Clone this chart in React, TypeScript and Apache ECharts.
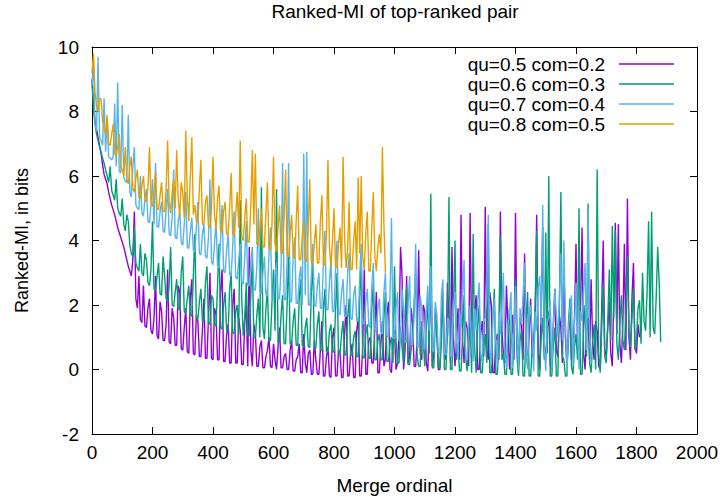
import React, { useEffect, useRef } from "react";
import * as echarts from "echarts";

// x step (merge ordinal) between consecutive samples
const STEP = 5;

const seriesNames = [
  "qu=0.5 com=0.2",
  "qu=0.6 com=0.3",
  "qu=0.7 com=0.4",
  "qu=0.8 com=0.5",
];
const seriesColors = ["#9400d3", "#009e73", "#56b4e9", "#e69f00"];

const xTicks = [0, 200, 400, 600, 800, 1000, 1200, 1400, 1600, 1800, 2000];
const yTicks = [-2, 0, 2, 4, 6, 8, 10];

// qu=0.5 com=0.2 (x = 0..1810)
const purpleY = [
  9.0, 8.2, 7.7, 7.45, 7.2, 6.95, 6.7, 6.35, 6.05, 5.9,
  5.75, 5.5, 5.3, 5.1, 4.95, 4.8, 4.6, 4.4, 4.25, 4.1,
  3.95, 3.8, 3.6, 3.4, 3.2, 3.05, 2.9, 3.4, 4.9, 2.2,
  1.9, 2.9, 1.55, 1.45, 2.6, 1.35, 1.3, 1.9, 2.2, 1.2,
  1.1, 1.6, 2.9, 1.05, 0.95, 2.1, 1.8, 0.9, 0.9, 1.4,
  3.1, 0.85, 0.8, 1.9, 1.6, 0.75, 0.75, 2.6, 2.4, 0.65,
  0.6, 1.3, 1.9, 0.55, 0.5, 2.2, 2.8, 0.5, 0.45, 1.7,
  1.5, 0.4, 0.4, 1.2, 2.2, 0.35, 0.35, 1.6, 3.0, 0.35,
  0.3, 1.9, 1.7, 0.3, 0.3, 2.4, 3.1, 0.25, 0.25, 1.1,
  1.4, 0.2, 0.2, 2.0, 2.5, 0.2, 0.2, 1.6, 1.2, 0.15,
  0.15, 1.5, 2.0, 0.1, 3.8, 0.6, 0.1, 1.4, 1.1, 0.1,
  0.1, 0.7, 0.9, 0.05, 0.05, 0.4, 0.6, 1.0, 0.1, 0.05,
  0.8, 0.3, 0.0, 0.7, 1.3, 0.05, 0.05, 0.4, 0.5, 0.0,
  0.0, 0.6, 0.9, -0.05, -0.05, 0.3, 0.4, 0.8, -0.1, -0.1,
  1.1, 0.2, -0.1, 0.5, 0.6, -0.15, -0.15, 0.9, 0.3, -0.15,
  -0.15, 0.6, 1.5, -0.2, -0.2, 0.4, 0.7, -0.2, -0.25, 1.0,
  1.3, -0.2, -0.2, 0.6, 0.5, -0.25, -0.25, 1.1, 2.0, -0.2,
  -0.2, 0.5, 0.8, -0.25, -0.25, 1.2, 1.6, -0.2, -0.2, 0.7,
  3.1, -0.15, -0.15, 0.9, 1.0, 0.2, 0.2, 1.3, 2.4, -0.1,
  -0.1, 0.8, 1.5, 0.1, 0.3, 1.7, 2.1, 0.0, -0.1, 0.9,
  1.2, 0.0, 0.2, 1.1, 3.8, 2.9, 0.0, 0.6, 2.9, 0.2,
  0.4, 1.9, 1.4, 0.1, 0.1, 1.0, 3.7, 0.5, 0.3, 2.0,
  1.8, 0.2, -0.05, 1.3, 2.6, 0.1, 0.5, 1.9, 1.2, 0.0,
  0.0, 1.4, 2.2, 0.6, 0.3, 2.7, 1.6, 0.2, 3.8, 1.0,
  0.1, 0.8, 1.9, 0.3, 4.8, 0.9, 0.2, 1.5, 1.3, 0.1,
  4.85, 0.7, 0.4, 1.8, 2.3, 0.0, 0.0, 1.1, 1.5, 0.4,
  5.05, 0.6, 0.3, 2.4, 2.0, -0.1, -0.1, 0.9, 1.1, 0.3,
  4.9, 1.2, 0.5, 0.2, 2.6, 1.4, 0.0, 0.8, 1.7, 0.3,
  4.85, 0.9, 0.2, 1.6, 1.4, 0.3, 3.6, 0.7, 0.1, 1.1,
  2.2, 0.4, 0.6, 1.5, 4.8, 0.5, 0.0, 1.9, 4.4, 0.8,
  0.3, 1.2, 1.8, 0.1, 0.0, 1.4, 2.5, 0.6, 0.4, 1.7,
  1.3, 0.2, 3.2, 1.0, 0.1, 0.9, 2.0, 0.3, 0.5, 1.6,
  3.9, 0.7, 0.2, 1.8, 4.4, 0.5, 0.0, 1.2, 1.6, 0.3,
  2.8, 0.9, 0.3, 1.5, 1.2, 0.1, 0.0, 1.9, 4.0, 0.6,
  0.4, 1.3, 2.1, 0.5, 0.1, 2.4, 4.55, 1.1, 4.5, 0.8,
  0.2, 1.5, 3.9, 0.6, 5.3, 1.0, 0.3, 2.2, 3.3, 0.7,
  0.5, 1.4, 1.0,
];

// qu=0.6 com=0.3 (x = 0..1880)
const greenY = [
  8.9, 8.1, 7.6, 7.3, 7.1, 6.9, 6.75, 6.55, 6.4, 6.2,
  6.0, 5.8, 6.3, 5.55, 5.4, 5.25, 5.9, 5.0, 4.85, 4.75,
  5.3, 4.5, 4.3, 4.8, 4.6, 3.85, 3.6, 3.5, 4.4, 3.3,
  3.15, 3.05, 3.9, 3.0, 2.9, 3.6, 3.4, 2.7, 2.6, 3.1,
  4.6, 2.5, 2.45, 2.9, 3.3, 2.35, 2.3, 3.5, 2.9, 2.2,
  2.1, 2.6, 3.8, 2.0, 1.95, 2.4, 2.8, 1.9, 1.85, 3.0,
  3.5, 1.8, 1.75, 2.2, 2.6, 1.7, 1.65, 2.9, 4.2, 1.6,
  1.55, 2.1, 2.5, 1.5, 1.5, 2.7, 3.2, 1.45, 1.4, 2.3,
  2.2, 1.4, 1.35, 2.6, 3.9, 1.3, 1.25, 2.0, 2.4, 1.2,
  1.2, 2.5, 3.0, 1.15, 1.1, 1.8, 2.0, 1.1, 5.25, 2.2,
  1.05, 1.6, 2.7, 1.05, 1.05, 2.3, 3.4, 1.0, 1.0, 1.7,
  2.2, 1.0, 5.65, 1.3, 0.95, 1.9, 2.5, 0.9, 0.9, 2.1,
  3.1, 1.2, 5.6, 0.85, 0.85, 1.7, 2.3, 0.8, 0.8, 2.0,
  3.6, 0.8, 0.8, 1.5, 1.9, 0.75, 0.75, 2.2, 2.8, 0.75,
  0.7, 1.3, 1.6, 0.7, 0.7, 2.4, 3.3, 0.65, 0.65, 1.4,
  1.8, 0.6, 0.6, 1.9, 2.5, 0.55, 0.55, 1.2, 1.4, 0.55,
  0.55, 1.8, 3.0, 0.5, 0.5, 1.1, 1.5, 0.45, 0.45, 1.6,
  2.2, 0.45, 0.45, 1.0, 1.2, 0.4, 0.4, 2.1, 3.4, 0.4,
  0.35, 1.1, 1.4, 0.35, 0.35, 1.9, 2.7, 0.3, 0.3, 0.9,
  1.1, 0.3, 0.3, 1.6, 2.4, 0.25, 0.25, 0.8, 1.0, 0.2,
  3.2, 0.9, 0.2, 0.2, 1.3, 0.7, 0.2, 1.8, 2.6, 0.15,
  0.15, 0.6, 1.0, 2.1, 3.0, 0.4, 0.1, 0.1, 1.5, 0.9,
  0.1, 1.3, 2.1, 0.5, 5.45, 0.05, 0.05, 1.6, 1.2, 0.05,
  0.05, 0.8, 2.4, 0.0, 0.0, 1.1, 5.35, 0.0, 0.0, 1.7,
  4.0, 0.3, 0.8, -0.05, -0.05, 1.0, 2.3, 0.4, -0.05, 0.9,
  1.4, -0.1, 4.2, 0.6, -0.1, 1.3, 2.0, -0.1, -0.1, 0.7,
  1.1, 0.2, 4.5, -0.1, -0.1, 1.6, 2.5, -0.15, -0.15, 0.8,
  4.15, 0.3, 0.5, -0.15, -0.15, 1.2, 1.9, -0.15, -0.15, 1.0,
  2.8, 0.4, -0.2, 0.9, 1.2, -0.2, -0.2, 1.5, 2.4, -0.2,
  -0.2, 0.6, 0.9, 2.0, 4.3, -0.2, -0.2, 1.0, 1.6, 0.3,
  4.25, 0.5, 6.0, -0.2, -0.2, 0.8, 1.3, -0.2, -0.2, 1.9,
  5.5, 0.4, 0.3, -0.2, -0.2, 1.4, 2.2, 0.1, -0.15, 0.7,
  1.1, 0.3, 5.0, -0.15, -0.15, 1.2, 2.0, 0.4, 5.15, 0.2,
  -0.1, 0.9, 1.4, 0.0, 6.2, 0.5, -0.1, 1.3, 2.6, 0.4,
  0.2, 1.5, 3.1, 0.9, 4.45, 1.6, 4.3, 0.8, 0.3, 1.4,
  2.3, 0.9, 0.6, 1.8, 3.5, 1.2, 0.7, 1.6, 2.5, 0.6,
  0.9, 1.9, 2.15, 0.8, 3.0, 1.5, 1.2, 2.4, 4.6, 1.0,
  4.9, 1.3, 1.1, 2.2, 3.8, 2.7, 0.85,
];

// qu=0.7 com=0.4 (x = 0..1650)
const blueY = [
  8.8, 9.5, 7.6, 7.4, 9.7, 7.2, 7.1, 6.95, 8.4, 6.75,
  7.8, 6.6, 6.55, 6.5, 6.6, 8.25, 6.3, 8.9, 6.15, 6.1,
  8.2, 5.95, 5.85, 5.8, 7.9, 5.5, 5.35, 6.3, 6.9, 5.1,
  5.0, 4.95, 6.0, 4.85, 4.75, 5.3, 5.6, 4.6, 4.55, 5.1,
  5.9, 4.5, 6.4, 4.45, 4.4, 4.9, 5.2, 4.3, 4.25, 5.0,
  5.6, 4.2, 4.15, 4.7, 6.2, 4.1, 4.05, 4.6, 4.9, 3.95,
  3.85, 4.5, 5.5, 3.8, 3.75, 4.3, 4.7, 3.7, 3.65, 4.4,
  5.2, 3.6, 3.55, 4.2, 4.5, 3.5, 3.45, 4.1, 5.9, 3.35,
  3.25, 3.9, 4.6, 3.2, 3.15, 4.0, 5.1, 3.05, 3.0, 3.7,
  4.2, 2.95, 2.9, 3.8, 4.9, 2.85, 2.8, 3.4, 3.9, 2.7,
  2.65, 3.5, 4.6, 2.6, 2.6, 3.3, 3.8, 2.5, 2.45, 3.2,
  5.0, 2.4, 2.35, 3.0, 3.5, 2.3, 2.3, 3.6, 4.4, 2.25,
  2.25, 2.9, 3.3, 2.2, 2.2, 3.1, 6.4, 2.2, 2.15, 3.4,
  6.4, 2.1, 2.1, 3.5, 4.1, 2.05, 2.05, 2.8, 3.2, 2.0,
  6.7, 2.3, 6.75, 2.0, 2.0, 2.9, 3.9, 2.0, 1.95, 2.6,
  3.0, 1.9, 1.9, 3.3, 4.3, 1.85, 1.85, 2.7, 3.4, 1.8,
  1.8, 3.1, 4.0, 1.75, 1.7, 2.4, 2.8, 1.65, 1.65, 3.0,
  3.6, 1.6, 1.55, 2.3, 2.6, 1.5, 1.5, 2.9, 3.9, 1.45,
  1.4, 2.1, 2.5, 1.35, 1.3, 2.6, 3.3, 1.25, 1.2, 1.9,
  2.2, 1.15, 1.1, 2.4, 3.0, 1.05, 1.0, 2.2, 4.7, 1.0,
  0.95, 1.9, 2.4, 0.9, 0.9, 2.5, 1.8, 0.85, 0.85, 2.0,
  2.9, 0.8, 0.75, 1.7, 3.9, 0.7, 0.7, 2.3, 1.9, 0.65,
  0.65, 1.8, 2.6, 1.2, 3.2, 0.6, 0.55, 2.1, 1.7, 0.5,
  0.5, 2.3, 2.8, 0.5, 0.45, 1.6, 1.5, 0.4, 0.4, 2.0,
  2.4, 0.9, 0.35, 1.8, 1.3, 2.2, 3.4, 0.3, 0.3, 1.4,
  2.0, 0.8, 0.25, 1.9, 1.2, 2.1, 2.7, 0.5, 0.2, 1.5,
  1.6, 2.3, 4.8, 0.6, 0.15, 1.7, 2.2, 0.9, 0.1, 1.8,
  1.1, 2.0, 3.0, 0.4, 0.05, 1.4, 1.8, 2.4, 0.05, 1.2,
  2.6, 1.0, 0.0, 1.9, 1.4, 2.3, 3.3, 0.6, 0.0, 1.6,
  2.0, 1.1, -0.05, 1.8, 1.2, 2.5, 2.9, 1.4, 5.1, 0.8,
  -0.05, 1.5, 1.6, 2.1, 0.0, 1.3, 2.5, 1.7, 1.0, 2.2,
  3.6, 0.9, 4.0, 1.5, -0.05, 1.2, 1.9, 2.3, 0.1, 1.4,
  2.7, 1.1, 0.0, 1.8, 1.5, 2.4, 3.3, 0.6, 4.95, 1.0,
  0.2,
];

// qu=0.8 com=0.5 (x = 0..970)
const orangeY = [
  9.2, 9.8, 8.6, 8.2, 8.0, 8.4, 8.4, 7.7, 7.5, 7.3,
  7.9, 7.0, 6.95, 7.3, 7.6, 6.7, 6.6, 6.9, 7.3, 6.3,
  6.2, 6.0, 6.9, 5.9, 5.75, 6.3, 6.6, 5.6, 5.5, 5.9,
  6.2, 5.35, 5.3, 5.7, 6.0, 5.25, 5.2, 5.6, 6.9, 5.2,
  5.05, 5.5, 6.1, 5.0, 4.95, 5.4, 5.8, 4.9, 4.9, 5.6,
  7.1, 5.2, 4.85, 5.5, 5.9, 5.0, 6.8, 5.3, 4.75, 5.8,
  5.5, 4.7, 7.4, 5.4, 4.6, 6.0, 7.2, 4.8, 5.1, 4.6,
  4.55, 5.6, 6.5, 4.5, 4.5, 5.2, 5.4, 4.45, 4.4, 5.0,
  6.6, 4.8, 4.35, 5.3, 5.7, 4.3, 4.25, 4.9, 5.2, 4.2,
  4.2, 5.0, 6.1, 4.2, 4.15, 4.8, 5.5, 4.4, 7.1, 4.1,
  4.0, 4.7, 5.3, 3.95, 3.95, 5.1, 6.8, 4.5, 6.7, 3.9,
  3.85, 4.4, 5.0, 3.8, 3.8, 4.9, 5.8, 3.75, 3.7, 4.5,
  6.6, 3.9, 3.65, 4.4, 5.1, 3.6, 3.6, 4.7, 6.2, 3.55,
  3.5, 4.2, 4.8, 3.5, 3.45, 4.6, 5.7, 3.4, 3.4, 4.1,
  4.6, 3.4, 3.35, 4.5, 5.9, 3.3, 3.3, 3.9, 4.5, 3.3,
  3.3, 4.6, 5.4, 3.25, 3.25, 4.2, 6.5, 3.8, 3.2, 4.0,
  5.0, 3.2, 3.15, 3.9, 4.4, 3.15, 6.6, 4.1, 3.15, 3.7,
  5.2, 3.1, 3.1, 4.0, 4.6, 3.1, 5.95, 3.6, 6.0, 3.5,
  3.1, 4.2, 4.9, 3.05, 3.05, 4.4, 5.5, 3.5, 3.05, 3.8,
  4.2, 3.6, 6.9, 4.5, 3.0,
];

const allY = [purpleY, greenY, blueY, orangeY];

const FONT = "'Liberation Sans', Arial, Helvetica, sans-serif";

export default function App() {
  const ref = useRef<HTMLDivElement>(null);

  useEffect(() => {
    if (!ref.current) return;
    const chart = echarts.init(ref.current, undefined, { renderer: "svg" });
    const textBase = { color: "#000", fontFamily: FONT, fontSize: 19 };

    const series = allY.map((ys, k) => ({
      name: seriesNames[k],
      type: "line",
      data: ys.map((y, i) => [i * STEP, y]),
      showSymbol: false,
      symbol: "none",
      xAxisIndex: 0,
      yAxisIndex: 0,
      color: seriesColors[k],
      lineStyle: { color: seriesColors[k], width: 1.4 },
      emphasis: { disabled: true },
      silent: true,
    }));

    const xAxisCommon = {
      type: "value",
      min: xTicks[0],
      max: xTicks[xTicks.length - 1],
      interval: xTicks[1] - xTicks[0],
      splitLine: { show: false },
      axisLine: { show: true, onZero: false, lineStyle: { color: "#000", width: 1 } },
      axisTick: { show: true, inside: true, length: 7, lineStyle: { color: "#000" } },
    };
    const yAxisCommon = {
      type: "value",
      min: yTicks[0],
      max: yTicks[yTicks.length - 1],
      interval: yTicks[1] - yTicks[0],
      splitLine: { show: false },
      axisLine: { show: true, onZero: false, lineStyle: { color: "#000", width: 1 } },
      axisTick: { show: true, inside: true, length: 7, lineStyle: { color: "#000" } },
    };

    chart.setOption({
      animation: false,
      backgroundColor: "#fff",
      title: {
        text: "Ranked-MI of top-ranked pair",
        left: 395,
        top: 2,
        padding: 0,
        textAlign: "center",
        textStyle: { ...textBase, fontWeight: "normal" },
      },
      legend: {
        data: seriesNames,
        orient: "vertical",
        right: 52,
        top: 54,
        padding: 0,
        align: "right",
        icon: "rect",
        itemWidth: 55,
        itemHeight: 1.5,
        itemGap: 0,
        selectedMode: false,
        textStyle: { ...textBase, lineHeight: 20, padding: [0, 9, 0, 0] },
      },
      grid: { left: 92, right: 29, top: 47, bottom: 66, containLabel: false },
      xAxis: [
        {
          ...xAxisCommon,
          position: "bottom",
          name: "Merge ordinal",
          nameLocation: "middle",
          nameGap: 42,
          nameTextStyle: textBase,
          axisLabel: { ...textBase, margin: 9, formatter: (v: number) => String(v) },
        },
        { ...xAxisCommon, position: "top", axisLabel: { show: false } },
      ],
      yAxis: [
        {
          ...yAxisCommon,
          position: "left",
          name: "Ranked-MI, in bits",
          nameLocation: "middle",
          nameGap: 61,
          nameTextStyle: { ...textBase, fontSize: 18 },
          axisLabel: { ...textBase, margin: 13, formatter: (v: number) => String(v) },
        },
        { ...yAxisCommon, position: "right", axisLabel: { show: false } },
      ],
      series,
    });

    return () => chart.dispose();
  }, []);

  return (
    <div
      ref={ref}
      style={{ position: "fixed", left: 0, top: 0, width: 726, height: 500 }}
    />
  );
}
